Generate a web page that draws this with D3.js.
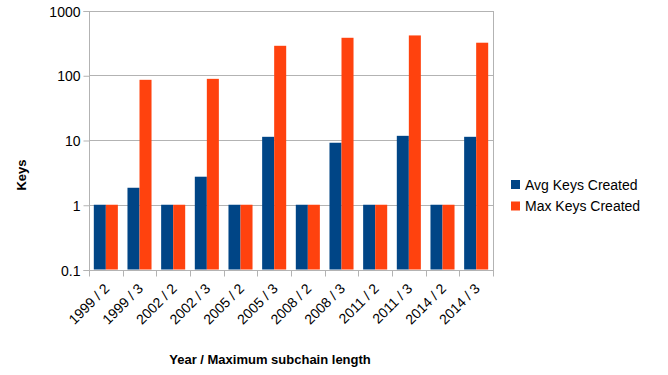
<!DOCTYPE html>
<html>
<head>
<meta charset="utf-8">
<script src="https://cdn.jsdelivr.net/npm/d3@7"></script>
<style>
  body { margin: 0; background: #fff; }
  text { font-family: "Liberation Sans", Arial, sans-serif; fill: #000; }
</style>
</head>
<body>
<svg id="chart" width="668" height="375"></svg>
<script>
// Key creation per year and maximum subchain length
const categories = ["1999 / 2", "1999 / 3", "2002 / 2", "2002 / 3", "2005 / 2", "2005 / 3",
                    "2008 / 2", "2008 / 3", "2011 / 2", "2011 / 3", "2014 / 2", "2014 / 3"];
const avgKeys = [1, 1.83, 1, 2.71, 1, 11.2, 1, 9.07, 1, 11.6, 1, 11.2];
const maxKeys = [1, 85, 1, 88, 1, 285, 1, 379, 1, 412, 1, 318];
const seriesNames = ["Avg Keys Created", "Max Keys Created"];
const yTicks = [0.1, 1, 10, 100, 1000];
const yTickLabels = ["0.1", "1", "10", "100", "1000"];

const colors = ["#004586", "#ff420e"];
const grid = "#b3b3b3";

const svg = d3.select("#chart");
const plot = { left: 89, right: 493, top: 10.5, bottom: 269.5 };

const x = d3.scaleBand().domain(categories).range([plot.left, plot.right]).paddingInner(0).paddingOuter(0);
const inner = d3.scaleBand().domain(seriesNames).range([0, x.bandwidth()]).paddingOuter(0.4).paddingInner(0);
const y = d3.scaleLog().domain([0.1, 1000]).range([plot.bottom, plot.top]);

// horizontal grid lines
svg.append("g").selectAll("line").data(yTicks).join("line")
  .attr("x1", plot.left).attr("x2", plot.right)
  .attr("y1", d => Math.round(y(d)) + 0.5).attr("y2", d => Math.round(y(d)) + 0.5)
  .attr("stroke", grid).attr("stroke-width", 1);

// right border of the plot area
svg.append("line")
  .attr("x1", plot.right + 0.5).attr("x2", plot.right + 0.5)
  .attr("y1", Math.round(plot.top)).attr("y2", Math.round(plot.bottom) + 0.5)
  .attr("stroke", grid);

// bars
const series = [avgKeys, maxKeys];
series.forEach((vals, si) => {
  svg.append("g").selectAll("rect").data(vals).join("rect")
    .attr("x", (d, i) => x(categories[i]) + inner(seriesNames[si]))
    .attr("width", inner.bandwidth())
    .attr("y", d => y(d))
    .attr("height", d => y(0.1) - y(d))
    .attr("fill", colors[si]);
});

// y axis
const yAxis = d3.axisLeft(y).tickValues(yTicks)
  .tickFormat((d, i) => yTickLabels[i]).tickSize(6).tickPadding(3);
const gy = svg.append("g").attr("transform", `translate(${plot.left + 0.5},0.5)`).call(yAxis);
gy.select(".domain").attr("stroke", grid).attr("d", `M-6,${Math.round(plot.top)}H0V${Math.round(plot.bottom)}H-6`);
gy.selectAll(".tick line").attr("stroke", grid);
gy.selectAll(".tick text").attr("font-size", 14).attr("font-family", "Liberation Sans, Arial, sans-serif")
  .attr("fill", "#000").attr("dy", "0.36em");

// x axis with ticks at category boundaries
const gx = svg.append("g").attr("transform", `translate(0,${Math.round(plot.bottom) + 0.5})`);
gx.append("line").attr("x1", plot.left).attr("x2", plot.right + 1).attr("stroke", grid);
const bounds = categories.map(c => x(c)).concat([plot.right]);
gx.selectAll("line.tk").data(bounds).join("line").attr("class", "tk")
  .attr("x1", d => Math.round(d) + 0.5).attr("x2", d => Math.round(d) + 0.5)
  .attr("y1", 0).attr("y2", 6).attr("stroke", grid);
gx.selectAll("text").data(categories).join("text")
  .attr("transform", d => `translate(${x(d) + x.bandwidth() / 2 + 4.5},${19}) rotate(-45)`)
  .attr("text-anchor", "end")
  .attr("font-size", 14)
  .text(d => d);

// axis titles
svg.append("text")
  .attr("transform", "translate(26,175) rotate(-90)")
  .attr("text-anchor", "middle")
  .attr("font-size", 13).attr("font-weight", "bold")
  .text("Keys");
svg.append("text")
  .attr("x", 270).attr("y", 364)
  .attr("text-anchor", "middle")
  .attr("font-size", 13).attr("font-weight", "bold")
  .text("Year / Maximum subchain length");

// legend
const legend = svg.append("g").attr("transform", "translate(511,180)");
seriesNames.forEach((name, i) => {
  legend.append("rect").attr("x", 0).attr("y", i * 21.5).attr("width", 9).attr("height", 9).attr("fill", colors[i]);
  legend.append("text").attr("x", 14).attr("y", i * 21.5 + 4.5).attr("dy", "0.36em")
    .attr("font-size", 14).text(name);
});
</script>
</body>
</html>
